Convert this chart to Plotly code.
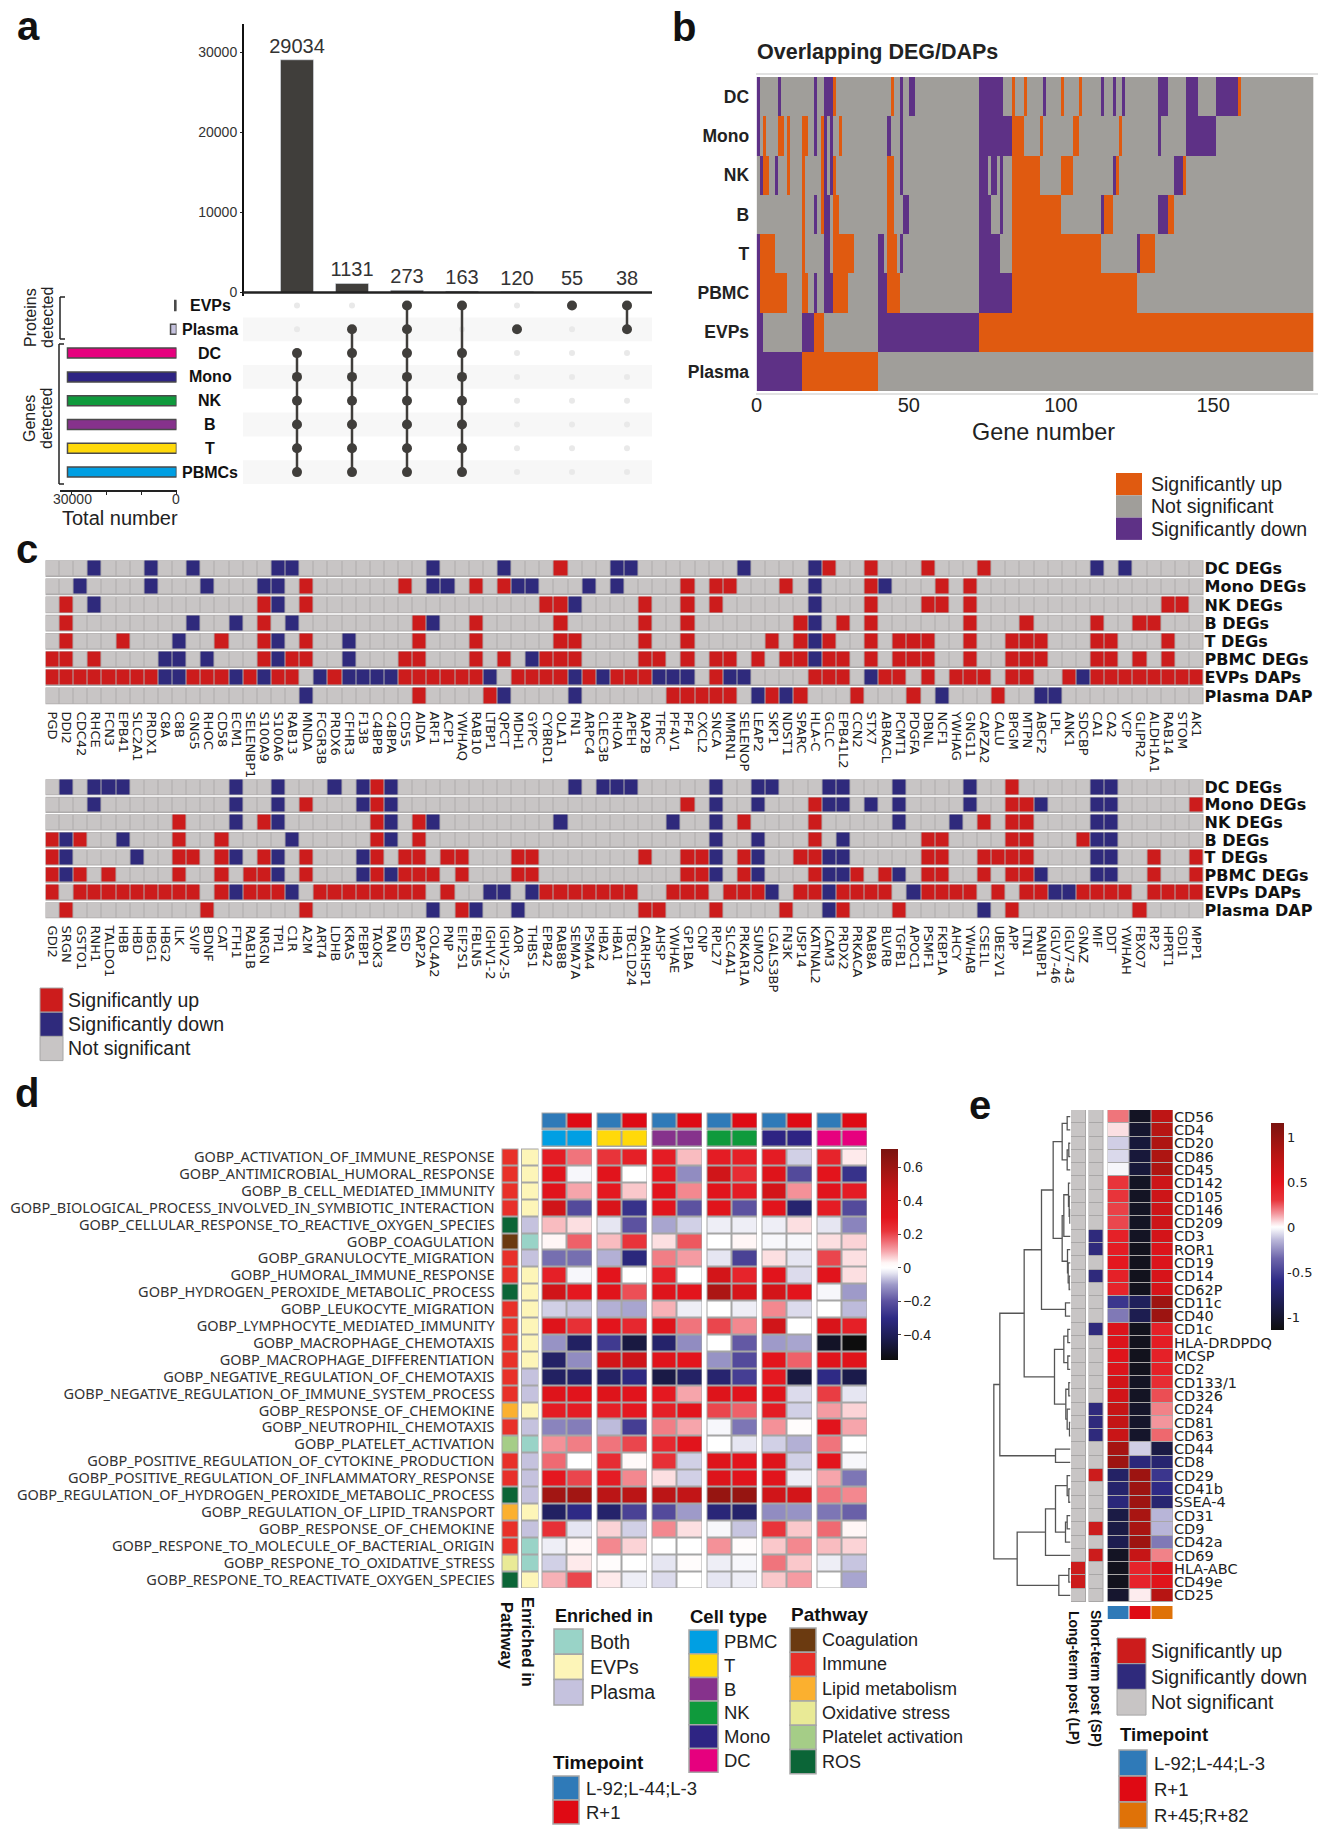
import plotly.graph_objects as go

W, H = 1326, 1834
SANS = "Liberation Sans"
DEJA = "DejaVu Sans"
NOTO = "Noto Sans"

# ---------- panel a ----------
A_INTERSECT = [29034, 1131, 273, 163, 120, 55, 38]
A_SETS = ["EVPs", "Plasma", "DC", "Mono", "NK", "B", "T", "PBMCs"]
A_SET_SIZE = [500, 1700, 31000, 31000, 31000, 31000, 31000, 31000]
A_SET_COLOR = ["#444444", "#c5c2de", "#e6007e", "#2e2483", "#0f9a3c", "#86328c", "#ffd90a", "#009fe3"]
A_MEMBERS = [[2, 3, 4, 5, 6, 7], [1, 2, 3, 4, 5, 6, 7], [0, 1, 2, 3, 4, 5, 6, 7],
             [0, 2, 3, 4, 5, 6, 7], [1], [0], [0, 1]]

# ---------- panel b ----------
B_ROWS = ["DC", "Mono", "NK", "B", "T", "PBMC", "EVPs", "Plasma"]
B_NCOL = 183
B_DC_UP = [(25, 26), (44, 45), (84, 85), (88, 89), (100, 101), (106, 107), (158, 159)]
B_DC_DOWN = [(0, 1), (7, 8), (19, 20), (22, 25), (47, 48), (50, 52), (73, 81), (94, 95), (113, 114),
             (117, 118), (120, 121), (132, 135), (141, 145), (151, 158)]
B_MONO_UP = [(2, 3), (7, 9), (10, 11), (15, 17), (21, 22), (27, 28), (84, 88), (93, 94), (104, 106), (119, 120)]
B_MONO_DOWN = [(0, 1), (19, 20), (22, 23), (24, 25), (43, 44), (47, 48), (73, 84), (132, 133), (141, 151)]
B_NK_UP = [(2, 4), (10, 11), (15, 16), (21, 22), (25, 26), (43, 45), (84, 93), (100, 104), (118, 119), (140, 141)]
B_NK_DOWN = [(1, 2), (6, 7), (22, 23), (24, 25), (47, 48), (73, 76), (77, 79), (80, 81), (117, 118), (137, 140)]
B_B_UP = [(15, 16), (21, 22), (25, 27), (43, 45), (84, 100), (114, 117), (135, 137)]
B_B_DOWN = [(19, 20), (22, 24), (48, 50), (73, 77), (80, 81), (113, 114), (132, 135)]
B_T_UP = [(1, 6), (15, 16), (25, 32), (43, 46), (84, 113), (126, 131)]
B_T_DOWN = [(0, 1), (22, 24), (40, 42), (47, 48), (73, 80), (125, 126)]
B_PBMC_UP = [(1, 10), (15, 17), (25, 30), (43, 47), (84, 125)]
B_PBMC_DOWN = [(0, 1), (19, 20), (22, 25), (40, 43), (73, 84)]
B_EVP_UP = [(19, 22), (73, 183)]
B_EVP_DOWN = [(0, 2), (15, 19), (40, 73)]
B_PLASMA_UP = [(15, 40)]
B_PLASMA_DOWN = [(0, 15)]

# ---------- panel c ----------
C_ROWS = ["DC DEGs", "Mono DEGs", "NK DEGs", "B DEGs", "T DEGs", "PBMC DEGs", "EVPs DAPs", "Plasma DAP"]
C1_GENES = ["PGD","DDI2","CDC42","RHCE","FCN3","EPB41","SLC2A1","PRDX1","C8A","C8B","GNG5","RHOC","CD58","ECM1",
            "SELENBP1","S100A9","S100A6","RAB13","MNDA","FCGR3B","PRDX6","CFHR3","F13B","C4BPB","C4BPA","CD55",
            "AIDA","ARF1","ACP1","YWHAQ","RAB10","LTBP1","QPCT","MDH1","GYPC","CYBRD1","OLA1","FN1","ARPC4",
            "CLEC3B","RHOA","APEH","RAP2B","TFRC","PF4V1","PF4","CXCL2","SNCA","MMRN1","SELENOP","LEAP2","SKP1",
            "NDST1","SPARC","HLA-C","GCLC","EPB41L2","CCN2","STX7","ABRACL","PCMT1","PDGFA","DBNL","NCF1",
            "YWHAG","GNG11","CAPZA2","CALU","BPGM","MTPN","ABCF2","LPL","ANK1","SDCBP","CA1","CA2","VCP",
            "GLIPR2","ALDH1A1","RAB14","STOM","AK1"]
C2_GENES = ["GDI2","SRGN","GSTO1","RNH1","TALDO1","HBB","HBD","HBG1","HBG2","ILK","SVIP","BDNF","CAT","FTH1",
            "RAB1B","NRGN","TPI1","C1R","A2M","ART4","LDHB","KRAS","PEBP1","TAOK3","RAN","ESD","RAP2A","COL4A2",
            "PNP","EIF2S1","FBLN5","IGHV1-2","IGHV2-5","AOR","THBS1","EPB42","RAB8B","SEMA7A","PSMA4","HBA2",
            "HBA1","TBC1D24","CARHSP1","AHSP","YWHAE","GP1BA","CNP","RPL27","SLC4A1","PRKAR1A","SUMO2",
            "LGALS3BP","FN3K","USP14","KATNAL2","ICAM3","PRDX2","PRKACA","RAB8A","BLVRB","TGFB1","APOC1",
            "PSMF1","FKBP1A","AHCY","YWHAB","CSE1L","UBE2V1","APP","LTN1","RANBP1","IGLV7-46","IGLV7-43",
            "GNAZ","MIF","DDT","YWHAH","FBXO7","RP2","HPRT1","GDI1","MPP1"]
# 1-based column numbers
C1_DC_UP = [37,56,59,63,67]
C1_DC_DN = [4,8,11,17,18,28,33,41,42,50,55,75,77]
C1_MONO_UP = [19,26,31,33,46,48,49,53,59,64,66]
C1_MONO_DN = [3,8,12,16,17,28,29,34,35,39,41,55,60]
C1_NK_UP = [2,16,19,36,37,43,46,48,59,63,64,66,80,81]
C1_NK_DN = [4,17,38,55]
C1_B_UP = [2,16,27,31,37,43,46,54,57,59,66,70,75,78,79]
C1_B_DN = [11,14,18,28,55]
C1_T_UP = [2,6,13,16,19,27,31,37,38,43,46,52,54,56,59,61,62,63,66,69,70,71,75,76,80]
C1_T_DN = [10,17,22,55]
C1_PBMC_UP = [1,2,4,16,18,19,26,27,31,33,36,37,38,43,44,46,48,49,51,53,54,56,57,59,61,62,63,66,69,70,71,75,76,78,80]
C1_PBMC_DN = [9,10,12,17,22,35,55]
C1_EVP_DN = [9,10,14,16,20,22,23,24,25,32,38,40,44,45,46,49,50,59,74]
C1_EVP_NS = [19,33,47,51,52,53,54,58,62,64,68,71,72]
C1_PLASMA_UP = [27,32,45,46,47,48,49,52,54,58,62,68]
C1_PLASMA_DN = [19,33,38,51,53,64,71,72]

C2_DC_UP = [24,69]
C2_DC_DN = [2,4,5,6,14,17,21,23,25,38,40,41,42,48,51,52,56,57,61,66,75,76]
C2_MONO_UP = [19,24,46,55,69,70,82]
C2_MONO_DN = [4,14,17,23,25,48,51,56,57,59,61,66,71,75,76]
C2_NK_UP = [10,16,24,27,50,55,67,69,70]
C2_NK_DN = [14,17,25,28,37,45,48,61,65,75,76]
C2_B_UP = [1,3,10,13,24,27,55,63,64,69,70,74]
C2_B_DN = [2,6,18,25,48,51,57,75,76]
C2_T_UP = [1,10,11,13,16,19,24,26,27,29,30,34,35,43,46,47,50,54,55,63,64,67,68,69,70,79,82]
C2_T_DN = [2,7,14,17,23,48,51,56,57,75,76]
C2_PBMC_UP = [1,3,5,10,13,15,16,19,24,26,27,28,30,34,35,46,47,50,55,58,60,63,64,67,69,70,79,82]
C2_PBMC_DN = [2,17,23,25,48,51,56,57,61,71,75,76]
C2_EVP_DN = [14,18,32,33,35,52,56,62,72,73]
C2_EVP_NS = [2,12,19,28,30,31,34,43,44,48,53,61,67,69,78]
C2_PLASMA_UP = [2,12,19,30,43,44,48,53,57,61,69,78]
C2_PLASMA_DN = [28,31,34,56,67]

# ---------- panel d ----------
D_TERMS = ["GOBP_ACTIVATION_OF_IMMUNE_RESPONSE","GOBP_ANTIMICROBIAL_HUMORAL_RESPONSE","GOBP_B_CELL_MEDIATED_IMMUNITY",
           "GOBP_BIOLOGICAL_PROCESS_INVOLVED_IN_SYMBIOTIC_INTERACTION","GOBP_CELLULAR_RESPONSE_TO_REACTIVE_OXYGEN_SPECIES",
           "GOBP_COAGULATION","GOBP_GRANULOCYTE_MIGRATION","GOBP_HUMORAL_IMMUNE_RESPONSE",
           "GOBP_HYDROGEN_PEROXIDE_METABOLIC_PROCESS","GOBP_LEUKOCYTE_MIGRATION","GOBP_LYMPHOCYTE_MEDIATED_IMMUNITY",
           "GOBP_MACROPHAGE_CHEMOTAXIS","GOBP_MACROPHAGE_DIFFERENTIATION","GOBP_NEGATIVE_REGULATION_OF_CHEMOTAXIS",
           "GOBP_NEGATIVE_REGULATION_OF_IMMUNE_SYSTEM_PROCESS","GOBP_RESPONSE_OF_CHEMOKINE","GOBP_NEUTROPHIL_CHEMOTAXIS",
           "GOBP_PLATELET_ACTIVATION","GOBP_POSITIVE_REGULATION_OF_CYTOKINE_PRODUCTION",
           "GOBP_POSITIVE_REGULATION_OF_INFLAMMATORY_RESPONSE","GOBP_REGULATION_OF_HYDROGEN_PEROXIDE_METABOLIC_PROCESS",
           "GOBP_REGULATION_OF_LIPID_TRANSPORT","GOBP_RESPONSE_OF_CHEMOKINE","GOBP_RESPONE_TO_MOLECULE_OF_BACTERIAL_ORIGIN",
           "GOBP_RESPONE_TO_OXIDATIVE_STRESS","GOBP_RESPONE_TO_REACTIVATE_OXYGEN_SPECIES"]
D_PATHWAY_NAMES = ["Coagulation","Immune","Lipid metabolism","Oxidative stress","Platelet activation","ROS"]
D_PATHWAY_COLORS = ["#6b3a10","#e8302a","#fbb02f","#e9ea96","#a5cd87","#0b6537"]
D_PATHWAY = [1,1,1,1,5,0,1,1,5,1,1,1,1,1,1,2,1,4,1,1,5,2,1,1,3,5]
D_ENRICH_NAMES = ["Both","EVPs","Plasma"]
D_ENRICH_COLORS = ["#99d3c7","#fdf5b8","#c5c2de"]
D_ENRICH = [1,1,1,1,2,0,2,1,1,1,1,1,1,2,2,1,2,0,2,2,2,1,2,0,0,1]
D_CELLS = ["PBMC","T","B","NK","Mono","DC"]
D_CELL_COLORS = ["#009fe3","#ffd90a","#86328c","#0f9a3c","#2e2483","#e6007e"]
D_TIME_NAMES = ["L-92;L-44;L-3","R+1"]
D_TIME_COLORS = ["#2f7ab8","#df0a14"]
D_PBMC = [[.28,.15],[.32,-.01],[.31,.10],[.42,-.22],[.08,.05],[.03,.17],[-.16,-.16],[.27,-.01],[.42,.29],[-.05,-.06],[.33,.23],[-.11,-.38],[-.37,-.12],
          [-.38,-.36],[.33,.31],[.28,.28],[-.13,-.14],[.12,.14],[.16,0],[.29,.20],[.58,.58],[-.38,-.30],[.23,-.03],[-.02,.03],[-.05,.04],[.09,.20]]
D_T = [[.22,.27],[.31,0],[.29,.07],[.36,-.28],[-.03,-.20],[.08,.22],[-.08,-.32],[.30,0],[.32,.19],[-.08,-.09],[.30,.25],[-.26,-.45],[.40,.43],
       [-.37,-.31],[.33,.31],[.27,.29],[-.07,-.25],[.15,.20],[.24,.02],[.28,.13],[.50,.50],[-.36,-.24],[.06,-.05],[.13,.06],[.01,0],[.04,-.02]]
D_B = [[.28,.08],[.29,-.12],[.30,.13],[.31,-.20],[-.09,-.05],[.05,.18],[.14,.11],[.27,0],[.33,.30],[.09,-.02],[.33,.15],[-.36,-.12],[.32,.30],
       [-.44,-.37],[.29,.10],[.27,.30],[.14,.10],[.25,.31],[.23,-.05],[.05,-.05],[.50,.48],[-.22,-.10],[.13,.05],[0,0],[-.03,.01],[-.04,0]]
D_NK = [[.28,.27],[.42,.24],[.31,.28],[.32,-.20],[-.02,-.02],[0,.03],[-.03,-.24],[.40,.26],[.55,.38],[0,-.02],[.20,.13],[0,-.19],[-.11,-.22],
        [-.35,-.25],[.33,.31],[.20,.17],[-.01,-.15],[0,-.03],[.33,.30],[.34,.31],[.62,.62],[-.33,-.36],[-.01,-.06],[.12,.01],[-.02,-.01],[-.03,-.02]]
D_MONO = [[.28,-.05],[.33,-.22],[.40,.12],[.31,-.35],[-.02,.05],[-.01,-.01],[.05,-.03],[.31,-.04],[.40,.30],[.13,-.04],[.42,0],[-.10,-.09],[.30,.17],
          [.29,-.45],[.32,-.04],[.28,-.05],[.12,.01],[-.05,-.08],[.33,-.05],[.31,-.02],[.42,.40],[-.12,-.11],[.22,.07],[.07,.13],[.15,.07],[.07,.11]]
D_DC = [[.26,.04],[.30,-.28],[.31,.28],[.28,-.22],[-.03,-.13],[.05,.06],[.20,.05],[.31,.05],[-.01,-.10],[0,-.07],[.36,.27],[-.50,-.55],[.32,.32],
        [-.30,-.43],[.21,-.03],[.11,.06],[.31,.10],[.15,0],[.30,-.01],[.10,-.15],[.15,.13],[-.15,-.18],[.16,.03],[.08,.06],[-.02,-.06],[0,-.09]]
D_CBAR_TICKS = [0.6, 0.4, 0.2, 0, -0.2, -0.4]
D_CBAR_TEXT = ["0.6", "0.4", "0.2", "0", "\u22120.2", "\u22120.4"]

# ---------- panel e ----------
E_MARKERS = ["CD56","CD4","CD20","CD86","CD45","CD142","CD105","CD146","CD209","CD3","ROR1","CD19","CD14","CD62P",
             "CD11c","CD40","CD1c","HLA-DRDPDQ","MCSP","CD2","CD133/1","CD326","CD24","CD81","CD63","CD44","CD8",
             "CD29","CD41b","SSEA-4","CD31","CD9","CD42a","CD69","HLA-ABC","CD49e","CD25"]
E_L = [.2,.05,-.1,-.08,-.02,.3,.3,.28,.27,.42,.45,.48,.42,.4,-.55,-.3,.55,.55,.52,.55,.62,.62,.7,.72,.68,.9,.95,
       -.75,-.72,-.65,-.9,-.9,-.85,-1.05,-1.08,-1.08,-1.0]
E_R1 = [-1.05,-1,-.95,-.95,-.95,-1.05,-1.05,-1.05,-1.05,-1.05,-1.08,-1.08,-1.08,-1.08,-.8,-.85,-1.08,-1.08,-1.08,-1.08,-1.05,-1.05,
        -1.02,-1.02,-1.02,-.1,-.65,.95,.95,.95,.88,.88,.95,.7,.4,.4,.03]
E_R45 = [.75,.8,.85,.85,.85,.65,.65,.65,.65,.6,.55,.55,.58,.58,.95,.95,.42,.45,.42,.42,.35,.26,.18,.15,.22,-.9,-.7,
         -.55,-.6,-.7,-.15,-.15,-.3,.18,.55,.52,.8]
E_LP_UP = [34, 35]
E_SP_UP = [27, 31, 33]
E_SP_DOWN = [9, 10, 12, 16, 22, 23, 24]
E_TIME_NAMES = ["L-92;L-44;L-3", "R+1", "R+45;R+82"]
E_TIME_COLORS = ["#2f7ab8", "#df0a14", "#df7208"]
# dendrogram merges: child a, child b, height (ids above 36 are earlier merges)
E_MERGES = [(0,1,10),(2,3,5),(38,4,10),(37,39,25),(7,8,2),(6,41,4),(5,42,6),(43,9,20),(12,13,4),(11,45,7),(10,46,9),
            (44,47,25),(40,48,52),(14,15,15),(49,50,87),(16,17,8),(18,19,8),(52,53,20),(20,21,5),(23,24,3),(22,56,10),
            (55,57,14),(54,58,48),(51,59,139),(25,26,45),(60,61,212),(28,29,5),(27,63,10),(30,31,10),(65,32,15),
            (64,66,45),(67,33,75),(34,35,5),(69,36,35),(68,70,160),(62,71,230)]
E_CBAR_TICKS = [1, 0.5, 0, -0.5, -1]
E_CBAR_TEXT = ["1", "0.5", "0", "-0.5", "-1"]

UP, NS, DOWN = "#cc1c1c", "#c8c5c5", "#2f2a7c"
B_UPC, B_NSC, B_DNC = "#e05a10", "#a09e9a", "#5e3186"

fig = go.Figure()
layout = dict(width=W, height=H, autosize=False, margin=dict(l=0, r=0, t=0, b=0, autoexpand=False),
              paper_bgcolor="white", plot_bgcolor="rgba(0,0,0,0)", showlegend=False)
shapes, annos = [], []
nax = [0]


def axes(x0, x1, y0, y1, xkw=None, ykw=None):
    nax[0] += 1
    n = nax[0]
    sx = "" if n == 1 else str(n)
    base = dict(visible=True, showgrid=False, zeroline=False, showline=False, ticks="", showticklabels=False)
    xa = dict(base, domain=[x0 / W, x1 / W], anchor="y" + sx)
    ya = dict(base, domain=[1 - y1 / H, 1 - y0 / H], anchor="x" + sx)
    xa.update(xkw or {})
    ya.update(ykw or {})
    layout["xaxis" + sx] = xa
    layout["yaxis" + sx] = ya
    return "x" + sx, "y" + sx


def rect(x0, y0, x1, y1, fill, line=None, lw=0, layer="below"):
    shapes.append(dict(type="rect", xref="paper", yref="paper", x0=x0 / W, x1=x1 / W, y0=1 - y0 / H, y1=1 - y1 / H,
                       fillcolor=fill, line=dict(color=line or fill, width=lw), layer=layer))


def seg(x0, y0, x1, y1, color="#222", lw=1.5):
    shapes.append(dict(type="line", xref="paper", yref="paper", x0=x0 / W, x1=x1 / W, y0=1 - y0 / H, y1=1 - y1 / H,
                       line=dict(color=color, width=lw), layer="above"))


def txt(x, y, s, size=14, anchor="left", color="#222", bold=False, angle=0, family=SANS):
    annos.append(dict(x=x / W, y=1 - y / H, xref="paper", yref="paper", text=f"<b>{s}</b>" if bold else s,
                      showarrow=False, xanchor=anchor, yanchor="middle", textangle=angle, align="center",
                      font=dict(size=size, color=color, family=family), borderpad=0))


def disc(colors):
    n = len(colors)
    cs = []
    for i, c in enumerate(colors):
        cs += [[i / n, c], [(i + 1) / n, c]]
    return cs


def cell(z, colors, xa, ya, x=None, y=None, xgap=0, ygap=0):
    fig.add_trace(go.Heatmap(z=z, x=x, y=y, xaxis=xa, yaxis=ya, colorscale=disc(colors), zmin=-0.5,
                             zmax=len(colors) - 0.5, showscale=False, xgap=xgap, ygap=ygap, hoverinfo="skip"))


# ================= panel a ==================
xrange_a = [1 - (297 - 243) / 55, 1 + (652 - 297) / 55]
xa, ya = axes(243, 652, 24, 292.5,
              dict(range=xrange_a),
              dict(range=[0, 33500], tickvals=[0, 10000, 20000, 30000], ticktext=["0", "10000", "20000", "30000"],
                   showticklabels=True, ticks="outside", ticklen=2,
                   tickcolor="#222", tickfont=dict(family=SANS, size=14, color="#333")))
fig.add_trace(go.Bar(x=list(range(1, 8)), y=A_INTERSECT, xaxis=xa, yaxis=ya, width=0.6, marker_color="#403e3b",
                     text=[str(v) for v in A_INTERSECT], textposition="outside", cliponaxis=False, constraintext="none",
                     textfont=dict(family=SANS, size=20, color="#333"), hoverinfo="skip"))
seg(243, 24, 243, 296, "#111", 2)
seg(243, 292.5, 652, 292.5, "#222", 2.5)

ry0, ry1 = 296, 490
rp = 23.8
r_first = 305.5
yr_a = [(ry1 - r_first) / rp, -(r_first - ry0) / rp]
xa2, ya2 = axes(243, 652, ry0, ry1, dict(range=xrange_a), dict(range=yr_a))
for r in [1, 3, 5, 7]:
    rect(243, r_first + rp * r - rp / 2, 652, r_first + rp * r + rp / 2, "#f7f7f7")
fig.add_trace(go.Scatter(x=[c for c in range(1, 8) for _ in A_SETS], y=list(range(8)) * 7, xaxis=xa2, yaxis=ya2,
                         mode="markers", marker=dict(color="#e9e9e9", size=6, symbol="circle"), hoverinfo="skip"))
for c, rows in enumerate(A_MEMBERS, 1):
    if len(rows) > 1:
        fig.add_trace(go.Scatter(x=[c, c], y=[min(rows), max(rows)], xaxis=xa2, yaxis=ya2, mode="lines",
                                 line=dict(color="#403e3b", width=2.5), hoverinfo="skip"))
    fig.add_trace(go.Scatter(x=[c] * len(rows), y=rows, xaxis=xa2, yaxis=ya2, mode="markers",
                             marker=dict(color="#403e3b", size=10), hoverinfo="skip"))

xa3, ya3 = axes(60, 176.5, ry0, ry1,
                dict(range=[(176.5 - 60) / 105.5 * 30000, 0], tickvals=[30000, 20000, 10000, 0],
                     ticks="outside", ticklen=3, showline=True, linecolor="#222", linewidth=1.5, tickcolor="#222"),
                dict(range=yr_a))
fig.add_trace(go.Bar(y=list(range(8)), x=A_SET_SIZE, orientation="h", xaxis=xa3, yaxis=ya3, width=0.42,
                     marker=dict(color=A_SET_COLOR, line=dict(color="#4a4a4a", width=1.5)), hoverinfo="skip"))
txt(72, 499, "30000", 14, "center", "#333")
txt(176, 499, "0", 14, "center", "#333")
for i, s in enumerate(A_SETS):
    txt(210, r_first + rp * i, s, 16, "center", "#111", True)
txt(120, 518, "Total number", 20, "center", "#222")
txt(30, 318, "Proteins", 16, "center", "#222", angle=-90)
txt(47, 318, "detected", 16, "center", "#222", angle=-90)
txt(30, 419, "Genes", 16, "center", "#222", angle=-90)
txt(47, 419, "detected", 16, "center", "#222", angle=-90)
for x0, y0, y1 in [(60, 297, 339), (59, 344, 484)]:
    seg(x0, y0, x0, y1, "#222", 1.5)
    seg(x0, y0, x0 + 5, y0, "#222", 1.5)
    seg(x0, y1, x0 + 5, y1, "#222", 1.5)

# ================= panel b ==================
b_up = [B_DC_UP, B_MONO_UP, B_NK_UP, B_B_UP, B_T_UP, B_PBMC_UP, B_EVP_UP, B_PLASMA_UP]
b_dn = [B_DC_DOWN, B_MONO_DOWN, B_NK_DOWN, B_B_DOWN, B_T_DOWN, B_PBMC_DOWN, B_EVP_DOWN, B_PLASMA_DOWN]
bz = []
for up, dn in zip(b_up, b_dn):
    row = [1] * B_NCOL
    for a, b in up:
        for i in range(a, b):
            row[i] = 0
    for a, b in dn:
        for i in range(a, b):
            row[i] = 2
    bz.append(row)
xb, yb = axes(756.6, 1313.5, 77, 391,
              dict(range=[0, B_NCOL], tickvals=[0, 50, 100, 150], showticklabels=True, ticklen=0,
                   tickfont=dict(family=SANS, size=20, color="#222")),
              dict(range=[7.5, -0.5], tickvals=list(range(8)), ticktext=[f"<b>{r}</b>" for r in B_ROWS],
                   showticklabels=True, ticks="outside", ticklen=3, tickcolor="white",
                   tickfont=dict(family=SANS, size=17.5, color="#222")))
cell(bz, [B_UPC, B_NSC, B_DNC], xb, yb, x=[i + .5 for i in range(B_NCOL)], y=list(range(8)))
seg(756, 74, 1318, 74, "#e2e2e2", 2)
seg(756, 394, 1318, 394, "#e2e2e2", 2)
txt(756, 52, "Overlapping DEG/DAPs", 21.5, "left", "#222", True)
txt(1043, 432, "Gene number", 23.4, "center", "#222")
for i, (c, s) in enumerate(zip([B_UPC, B_NSC, B_DNC], ["Significantly up", "Not significant", "Significantly down"])):
    rect(1116, 473 + 22.3 * i, 1142, 473 + 22.3 * (i + 1), c)
    txt(1150, 484 + 22.3 * i, s, 19.5, "left", "#222")


# ================= panel c ==================
def c_panel(genes, ups, dns, evp_dn, evp_ns, y0, y1):
    z = []
    for r in range(8):
        if r == 6:
            row = [0] * 82
            for i in evp_dn:
                row[i - 1] = 2
            for i in evp_ns:
                row[i - 1] = 1
        else:
            row = [1] * 82
            for i in ups[r]:
                row[i - 1] = 0
            for i in dns[r]:
                row[i - 1] = 2
        z.append(row)
    xc, yc = axes(45.5, 1203.5, y0, y1,
                  dict(range=[-.5, 81.5], tickvals=list(range(82)), ticktext=genes, tickangle=90, showticklabels=True,
                       ticks="outside", ticklen=3, tickcolor="white", tickfont=dict(family=DEJA, size=13, color="#222")),
                  dict(range=[7.5, -.5], tickvals=list(range(8)), ticktext=[f"<b>{r}</b>" for r in C_ROWS], side="right",
                       showticklabels=True, tickfont=dict(family=DEJA, size=16, color="#111")))
    p = (y1 - y0) / 8
    for r in range(8):
        rect(45.5, y0 + p * r + .7, 1203.5, y0 + p * (r + 1) - .7, "#aeacac")
    cell(z, [UP, NS, DOWN], xc, yc, x=list(range(82)), y=list(range(8)), xgap=1, ygap=3)


c_panel(C1_GENES, [C1_DC_UP, C1_MONO_UP, C1_NK_UP, C1_B_UP, C1_T_UP, C1_PBMC_UP, None, C1_PLASMA_UP],
        [C1_DC_DN, C1_MONO_DN, C1_NK_DN, C1_B_DN, C1_T_DN, C1_PBMC_DN, None, C1_PLASMA_DN], C1_EVP_DN, C1_EVP_NS, 559.5, 705)
c_panel(C2_GENES, [C2_DC_UP, C2_MONO_UP, C2_NK_UP, C2_B_UP, C2_T_UP, C2_PBMC_UP, None, C2_PLASMA_UP],
        [C2_DC_DN, C2_MONO_DN, C2_NK_DN, C2_B_DN, C2_T_DN, C2_PBMC_DN, None, C2_PLASMA_DN], C2_EVP_DN, C2_EVP_NS, 778.5, 919)
for i, (c, s) in enumerate(zip([UP, DOWN, NS], ["Significantly up", "Significantly down", "Not significant"])):
    rect(40, 988 + 24.2 * i, 63, 988 + 24.2 * (i + 1), c, "#a6a6a6", 1)
    txt(67, 1000 + 24.2 * i, s, 19.5, "left", "#222")


# ================= panel d ==================
def scale(stops):
    lo, hi = stops[0][0], stops[-1][0]
    return [[(v - lo) / (hi - lo), c] for v, c in stops]


D_SCALE = scale([(-.55, "#0d0d0d"), (-.42, "#1c1c50"), (-.3, "#2e2a85"), (-.2, "#5c52a0"), (-.1, "#9e9ac9"),
                 (-.03, "#e6e6f2"), (0, "#ffffff"), (.03, "#fff6f6"), (.1, "#f6a5ab"), (.16, "#ef6a72"), (.22, "#e8343a"),
                 (.3, "#e3141c"), (.45, "#cb1518"), (.6, "#9c1612"), (.71, "#7a130f")])
E_SCALE = scale([(-1.145, "#0f0f0f"), (-.85, "#1d1d50"), (-.6, "#2e2a85"), (-.35, "#6d65ab"), (-.15, "#b8b5d8"),
                 (-.03, "#f2f2f8"), (0, "#ffffff"), (.05, "#fbdfe2"), (.15, "#f3959c"), (.3, "#e8343a"), (.5, "#e3141c"),
                 (.8, "#b71513"), (1.155, "#7a130f")])
layout["coloraxis"] = dict(cmin=-.55, cmax=.71, colorscale=D_SCALE,
                           colorbar=dict(x=881 / W, xanchor="left", y=1 - 1149 / H, yanchor="top", lenmode="pixels", len=211,
                                         thicknessmode="pixels", thickness=17, xpad=0, ypad=0, outlinewidth=0, ticks="outside",
                                         ticklen=3, tickvals=D_CBAR_TICKS, ticktext=D_CBAR_TEXT,
                                         tickfont=dict(family=SANS, size=14, color="#222")))
layout["coloraxis2"] = dict(cmin=-1.145, cmax=1.155, colorscale=E_SCALE,
                            colorbar=dict(x=1271 / W, xanchor="left", y=1 - 1123 / H, yanchor="top", lenmode="pixels", len=207,
                                          thicknessmode="pixels", thickness=13, xpad=0, ypad=0, outlinewidth=0, ticks="",
                                          tickvals=E_CBAR_TICKS, ticktext=E_CBAR_TEXT,
                                          tickfont=dict(family=DEJA, size=13, color="#222")))
dy0, dy1 = 1148.5, 1588
GREY = "#a6a6a6"
rows_d = list(range(26))
xp, yp = axes(501.5, 518.5, dy0, dy1, dict(range=[-.5, .5]),
              dict(range=[25.5, -.5], tickvals=rows_d, ticktext=D_TERMS, showticklabels=True, ticks="outside", ticklen=3,
                   tickcolor="white", tickfont=dict(family=NOTO, size=14.5, color="#333")))
rect(501.5, dy0, 518.5, dy1, GREY)
cell([[v] for v in D_PATHWAY], D_PATHWAY_COLORS, xp, yp, x=[0], y=rows_d, xgap=2, ygap=2)
xe, ye = axes(521, 538.5, dy0, dy1, dict(range=[-.5, .5]), dict(range=[25.5, -.5]))
rect(521, dy0, 538.5, dy1, GREY)
cell([[v] for v in D_ENRICH], D_ENRICH_COLORS, xe, ye, x=[0], y=rows_d, xgap=2, ygap=2)

for g, (cellc, mat) in enumerate(zip(D_CELL_COLORS, [D_PBMC, D_T, D_B, D_NK, D_MONO, D_DC])):
    gx0 = 541.5 + 55 * g
    gx1 = gx0 + 50.5
    xh, yh = axes(gx0, gx1, 1112.5, 1147, dict(range=[-.5, 1.5]), dict(range=[1.5, -.5]))
    rect(gx0, 1112.5, gx1, 1130, GREY)
    rect(gx0, 1130.5, gx1, 1147, GREY)
    cell([[0, 1], [2, 2]], D_TIME_COLORS + [cellc], xh, yh, x=[0, 1], y=[0, 1], xgap=2, ygap=3)
    xm, ym = axes(gx0, gx1, dy0, dy1, dict(range=[-.5, 1.5]), dict(range=[25.5, -.5]))
    rect(gx0, dy0, gx1, dy1, GREY)
    fig.add_trace(go.Heatmap(z=mat, x=[0, 1], y=rows_d, xaxis=xm, yaxis=ym, coloraxis="coloraxis", xgap=2, ygap=2,
                             hoverinfo="skip"))

txt(528, 1642, "Enriched in", 16.5, "center", "#111", True, 90)
txt(507, 1636, "Pathway", 16.5, "center", "#111", True, 90)
txt(554, 1616, "Enriched in", 18, "left", "#111", True)
txt(689, 1616, "Cell type", 18.5, "left", "#111", True)
txt(790, 1614, "Pathway", 19, "left", "#111", True)
txt(552, 1762, "Timepoint", 19, "left", "#111", True)


def legend(names, colors, x0, x1, y0, step, tx, size):
    for i, (n, c) in enumerate(zip(names, colors)):
        rect(x0, y0 + step * i, x1, y0 + step * (i + 1), c, GREY, 1.5)
        txt(tx, y0 + step * (i + .5), n, size, "left", "#222")


legend(D_ENRICH_NAMES, D_ENRICH_COLORS, 554, 583, 1629, 25.3, 589, 19.5)
legend(D_CELLS, D_CELL_COLORS, 689, 718, 1630, 23.7, 723, 18.5)
legend(D_PATHWAY_NAMES, D_PATHWAY_COLORS, 790, 816, 1628, 24.3, 821, 18)
legend(D_TIME_NAMES, D_TIME_COLORS, 553, 579, 1776, 24, 585, 18.5)

# ================= panel e ==================
ey0, ey1 = 1110, 1602
rows_e = list(range(37))
lp = [[0 if i in E_LP_UP else 1] for i in rows_e]
sp = [[0 if i in E_SP_UP else (2 if i in E_SP_DOWN else 1)] for i in rows_e]
EG = "#a9a7a7"
xl, yl = axes(1071, 1086, ey0, ey1, dict(range=[-.5, .5]), dict(range=[36.5, -.5]))
rect(1071, ey0, 1086, ey1, EG)
cell(lp, [UP, NS, DOWN], xl, yl, x=[0], y=rows_e, xgap=1, ygap=1)
xs, ys = axes(1088.5, 1103.5, ey0, ey1, dict(range=[-.5, .5]), dict(range=[36.5, -.5]))
rect(1088.5, ey0, 1103.5, ey1, EG)
cell(sp, [UP, NS, DOWN], xs, ys, x=[0], y=rows_e, xgap=1, ygap=1)
xm, ym = axes(1107.5, 1173, ey0, ey1, dict(range=[-.5, 2.5]),
              dict(range=[36.5, -.5], side="right", tickvals=rows_e, ticktext=E_MARKERS, showticklabels=True,
                   tickfont=dict(family=DEJA, size=14.5, color="#222")))
rect(1107.5, ey0, 1173, ey1, EG)
fig.add_trace(go.Heatmap(z=[list(t) for t in zip(E_L, E_R1, E_R45)], x=[0, 1, 2], y=rows_e, xaxis=xm, yaxis=ym,
                         coloraxis="coloraxis2", xgap=1, ygap=1, hoverinfo="skip"))
xt, yt = axes(1107.5, 1173, 1606, 1619, dict(range=[-.5, 2.5]), dict(range=[.5, -.5]))
cell([[0, 1, 2]], E_TIME_COLORS, xt, yt, x=[0, 1, 2], y=[0], xgap=1)
txt(1074, 1678, "Long-term post (LP)", 14, "center", "#111", True, 90)
txt(1096, 1678, "Short-term post (SP)", 14, "center", "#111", True, 90)

# dendrogram
pos = {i: (i, 0.0) for i in rows_e}
dx, dy = [], []
for k, (a, b, h) in enumerate(E_MERGES):
    ya_, ha = pos[a]
    yb_, hb = pos[b]
    dx += [ha, h, h, hb, None]
    dy += [ya_, ya_, yb_, yb_, None]
    pos[37 + k] = ((ya_ + yb_) / 2, h)
xd, yd = axes(985, 1070.5, ey0, ey1, dict(range=[256.5, 0]), dict(range=[36.5, -.5]))
fig.add_trace(go.Scatter(x=dx, y=dy, xaxis=xd, yaxis=yd, mode="lines", line=dict(color="#555555", width=1.3),
                         hoverinfo="skip"))

for i, (c, s) in enumerate(zip([UP, DOWN, NS], ["Significantly up", "Significantly down", "Not significant"])):
    rect(1117, 1638 + 25.7 * i, 1146, 1638 + 25.7 * (i + 1), c, "#a6a6a6", 1)
    txt(1150, 1651 + 25.7 * i, s, 19.5, "left", "#222")
txt(1119, 1734, "Timepoint", 18.5, "left", "#111", True)
legend(E_TIME_NAMES, E_TIME_COLORS, 1119, 1147, 1750, 26, 1153, 18.5)

# panel letters
for s, x, y in [("a", 16, 26), ("b", 671, 27), ("c", 15, 549), ("d", 14, 1093), ("e", 968, 1105)]:
    txt(x, y, s, 40, "left", "#111", True)

layout["shapes"] = shapes
layout["annotations"] = annos
fig.update_layout(**layout)
fig.write_html("out.html", config=dict(displayModeBar=False), post_script="document.body.style.margin='0';")
